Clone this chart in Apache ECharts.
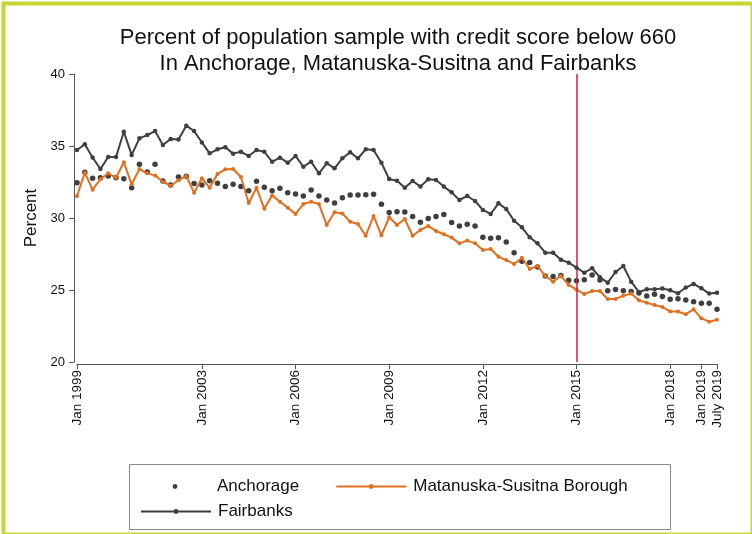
<!DOCTYPE html>
<html><head><meta charset="utf-8">
<script src="https://cdn.jsdelivr.net/npm/echarts@6/dist/echarts.min.js"></script>
<style>html,body{margin:0;padding:0;background:#fff}#c{width:752px;height:534px}</style>
</head><body><div id="c"></div>
<script>
// Quarterly categories 1999Q1 .. 2019Q3
const quarters = [];
for (let y = 1999; y <= 2019; y++) { for (let q = 1; q <= 4; q++) { if (y === 2019 && q > 3) break; quarters.push(y + 'Q' + q); } }

const tickQuarters = ['1999Q1','2003Q1','2006Q1','2009Q1','2012Q1','2015Q1','2018Q1','2019Q1','2019Q3'];
const tickLabels   = ['Jan 1999','Jan 2003','Jan 2006','Jan 2009','Jan 2012','Jan 2015','Jan 2018','Jan 2019','July 2019'];
const markQuarter = '2015Q1';

const anchorage = [32.45,33.18,32.76,32.8,32.92,32.8,32.72,32.1,33.73,33.2,33.73,32.57,32.3,32.85,32.9,32.4,32.3,32.59,32.41,32.18,
  32.34,32.18,31.9,32.55,32.13,31.9,32.06,31.76,31.66,31.53,31.94,31.53,31.25,31.04,31.41,31.6,31.6,31.62,31.65,30.95,
  30.38,30.44,30.42,30.1,29.7,29.97,30.1,30.25,29.68,29.44,29.56,29.44,28.66,28.59,28.62,28.33,27.59,27.0,26.91,26.6,
  25.98,25.93,26.0,25.67,25.64,25.72,26.04,25.7,24.94,25.03,24.94,24.9,24.8,24.58,24.7,24.54,24.35,24.4,24.31,24.19,
  24.08,24.08,23.66];
const matsu = [31.53,33.15,31.97,32.69,33.1,32.8,33.87,32.34,33.4,33.1,32.96,32.52,32.24,32.62,32.92,31.76,32.76,32.1,33.06,33.38,
  33.4,32.85,31.04,32.1,30.64,31.57,31.13,30.72,30.28,30.97,31.13,30.97,29.51,30.4,30.32,29.74,29.58,28.77,30.14,28.8,
  30.05,29.51,29.93,28.77,29.17,29.44,29.1,28.87,28.64,28.24,28.43,28.24,27.78,27.85,27.31,27.08,26.81,27.24,26.46,26.67,
  25.97,25.58,25.97,25.35,25.02,24.72,24.93,24.93,24.38,24.38,24.6,24.75,24.28,24.12,23.96,23.82,23.5,23.5,23.32,23.66,
  23.03,22.8,22.94];
const fairbanks = [34.72,35.12,34.2,33.4,34.24,34.24,35.99,34.38,35.53,35.76,36.04,35.07,35.49,35.45,36.41,36.04,35.25,34.49,34.77,34.91,
  34.47,34.6,34.31,34.72,34.6,33.9,34.19,33.84,34.31,33.56,33.91,33.1,33.8,33.45,34.15,34.56,34.15,34.77,34.72,33.84,
  32.7,32.58,32.1,32.57,32.18,32.69,32.64,32.18,31.78,31.25,31.53,31.18,30.56,30.28,31.02,30.62,29.81,29.35,28.66,28.24,
  27.59,27.59,27.1,26.9,26.55,26.2,26.51,25.88,25.51,26.25,26.67,25.58,24.85,25.05,25.05,25.1,24.98,24.77,25.17,25.42,
  25.12,24.75,24.81];

const FONT = 'Liberation Sans, Arial, sans-serif';
const DARK = '#3f3f3f', ORANGE = '#e0701f', RED = '#d21f3c';
const tickSet = new Set(tickQuarters);

const chart = echarts.init(document.getElementById('c'), null, {renderer: 'canvas'});
chart.setOption({
  animation: false,
  backgroundColor: '#fff',
  textStyle: {fontFamily: FONT},
  title: {
    text: 'Percent of population sample with credit score below 660\nIn Anchorage, Matanuska-Susitna and Fairbanks',
    left: 393, top: 20, textAlign: 'center',
    textStyle: {fontFamily: FONT, fontSize: 22, fontWeight: 'normal', color: '#111', lineHeight: 26}
  },
  grid: {left: 77, right: 35, top: 74, bottom: 172},
  xAxis: {
    type: 'category', data: quarters, boundaryGap: false, offset: 2,
    axisLine: {lineStyle: {color: '#555', width: 1}},
    axisTick: {show: true, length: 5, interval: (i, v) => tickSet.has(v), lineStyle: {color: '#555'}},
    axisLabel: {interval: (i, v) => tickSet.has(v), rotate: 90, fontSize: 13.5, color: '#111', margin: 6,
      formatter: v => tickLabels[tickQuarters.indexOf(v)]},
    splitLine: {show: false}
  },
  yAxis: {
    type: 'value', min: 20, max: 40, interval: 5, offset: 3,
    name: 'Percent', nameLocation: 'middle', nameGap: 33, nameRotate: 90,
    nameTextStyle: {fontSize: 17, color: '#111', fontFamily: FONT},
    axisLine: {show: true, lineStyle: {color: '#555', width: 1}},
    axisTick: {show: true, length: 5, lineStyle: {color: '#555'}},
    axisLabel: {fontSize: 13, color: '#111', margin: 9},
    splitLine: {show: false}
  },
  legend: [
    {left: 135, top: 473, itemWidth: 70, itemHeight: 6, itemGap: 36,
     textStyle: {fontSize: 17, color: '#111', fontFamily: FONT, padding: [0, 0, 0, 2]},
     data: ['Anchorage', 'Matanuska-Susitna Borough']},
    {left: 135, top: 498, itemWidth: 70, itemHeight: 6,
     textStyle: {fontSize: 17, color: '#111', fontFamily: FONT, padding: [0, 0, 0, 2]},
     data: ['Fairbanks']}
  ],
  graphic: [
    {type: 'rect', left: 1, top: 1, shape: {width: 749, height: 531}, style: {fill: 'none', stroke: '#c8d631', lineWidth: 4}, silent: true},
    {type: 'rect', left: 127, top: 462, shape: {width: 541, height: 65}, style: {fill: 'none', stroke: '#8a8a8a', lineWidth: 1}, silent: true, z: -1}
  ],
  series: [
    {name: 'Anchorage', type: 'line', data: anchorage, symbol: 'circle', symbolSize: 5.5, showSymbol: true, showAllSymbol: true,
     lineStyle: {width: 0, opacity: 0}, itemStyle: {color: DARK}, z: 3},
    {name: 'Matanuska-Susitna Borough', type: 'line', data: matsu, symbol: 'circle', symbolSize: 4, showSymbol: true, showAllSymbol: true,
     lineStyle: {color: ORANGE, width: 2}, itemStyle: {color: ORANGE}, z: 4,
     markLine: {silent: true, symbol: 'none', label: {show: false},
       lineStyle: {color: RED, width: 1.5, type: 'solid'}, data: [{xAxis: markQuarter}]}},
    {name: 'Fairbanks', type: 'line', data: fairbanks, symbol: 'circle', symbolSize: 4.5, showSymbol: true, showAllSymbol: true,
     lineStyle: {color: DARK, width: 2}, itemStyle: {color: DARK}, z: 5}
  ]
});
</script></body></html>
